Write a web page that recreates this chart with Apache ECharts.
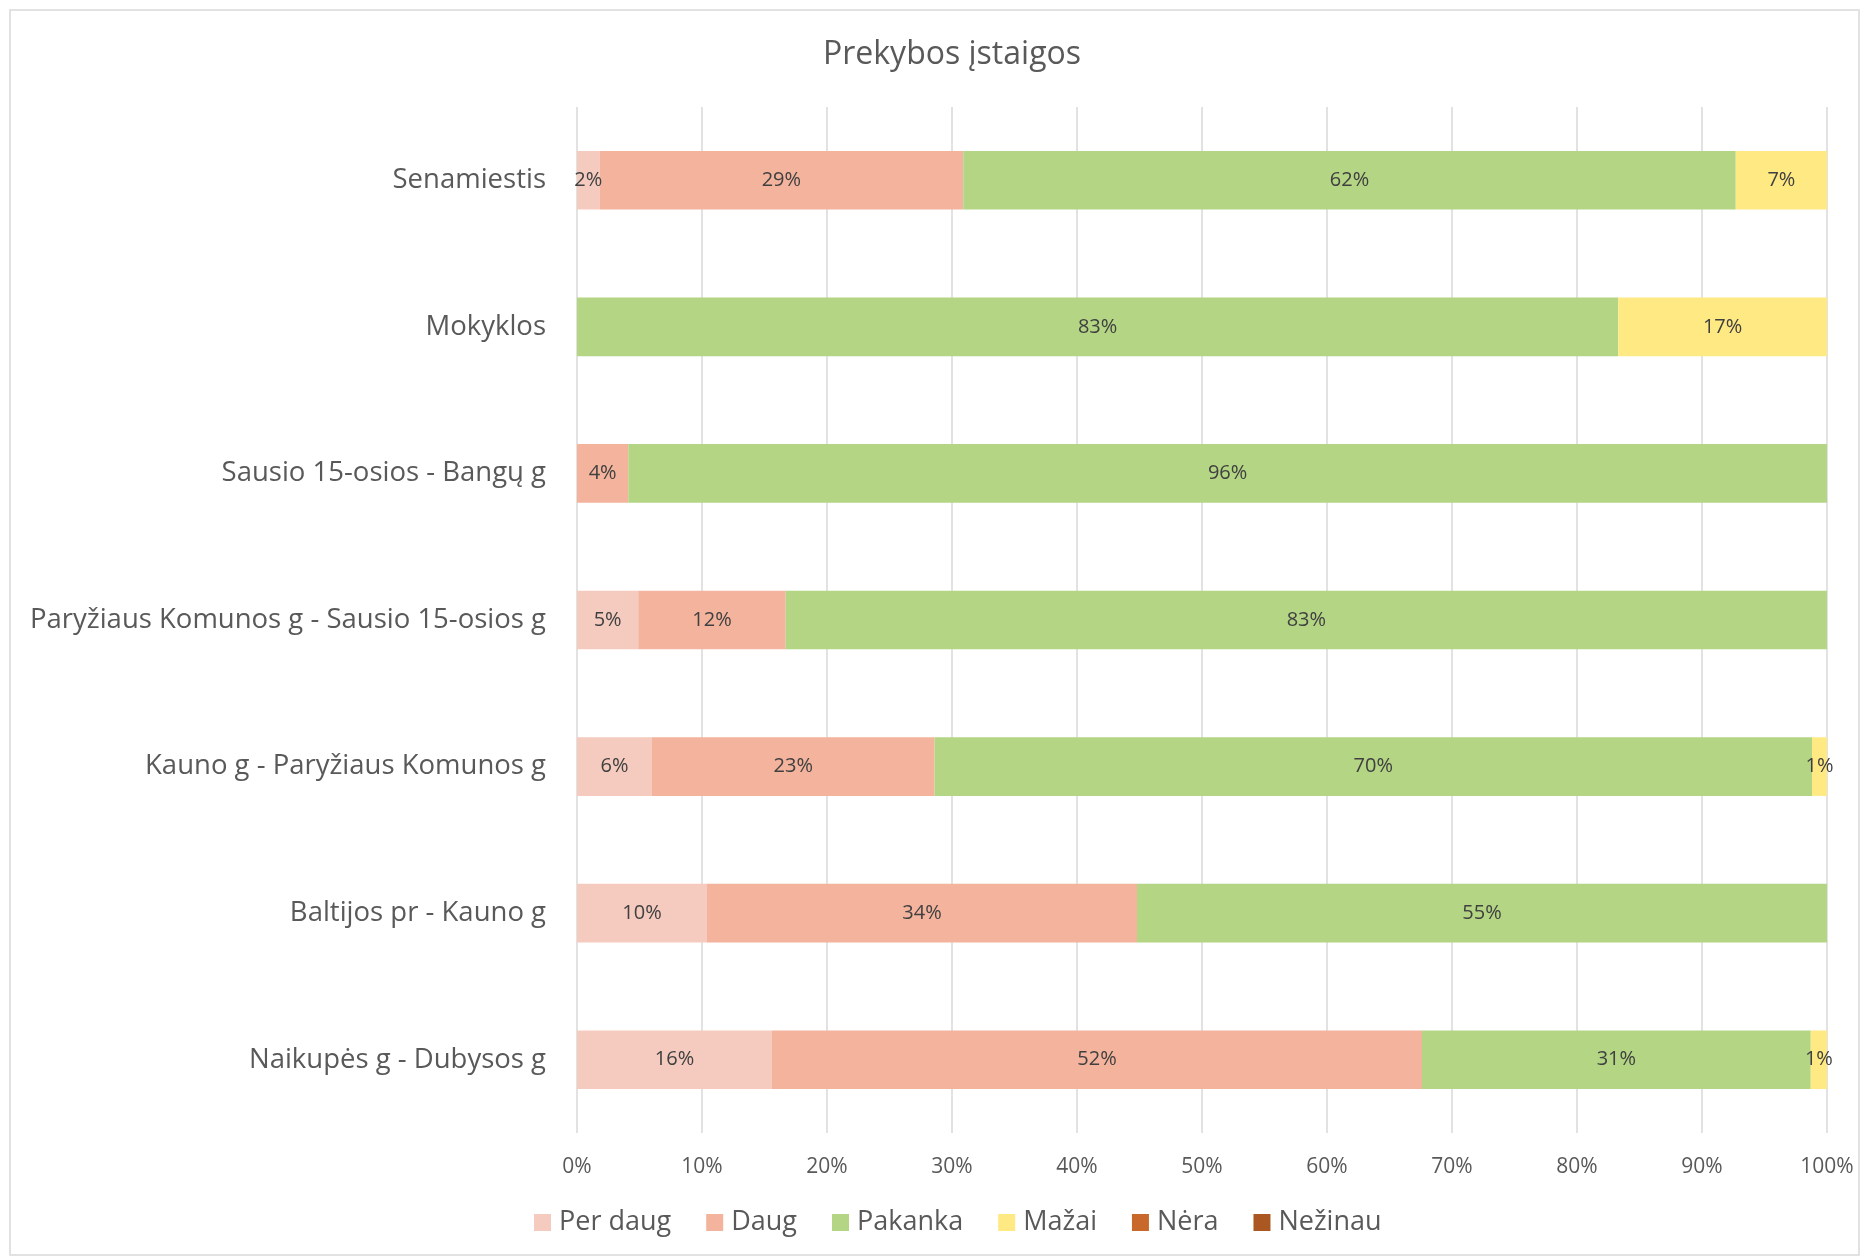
<!DOCTYPE html>
<html><head><meta charset="utf-8">
<script src="https://cdn.jsdelivr.net/npm/echarts@6/dist/echarts.min.js"></script>
<style>html,body{margin:0;padding:0;background:#fff}#c{width:1869px;height:1257px}</style>
</head><body><div id="c"></div>
<script>
const categories = ["Senamiestis","Mokyklos","Sausio 15-osios - Bangų g","Paryžiaus Komunos g - Sausio 15-osios g","Kauno g - Paryžiaus Komunos g","Baltijos pr - Kauno g","Naikupės g - Dubysos g"];
const seriesNames = ["Per daug","Daug","Pakanka","Mažai","Nėra","Nežinau"];
const perDaug = [1.8, 0, 0, 4.9, 6.0, 10.4, 15.6];
const daug    = [29.1, 0, 4.1, 11.8, 22.6, 34.4, 52.0];
const pakanka = [61.8, 83.3, 95.9, 83.3, 70.2, 55.2, 31.1];
const mazai   = [7.3, 16.7, 0, 0, 1.2, 0, 1.3];
const nera    = [0, 0, 0, 0, 0, 0, 0];
const nezinau = [0, 0, 0, 0, 0, 0, 0];
const xTicks = [0,10,20,30,40,50,60,70,80,90,100];
const colors = ["#F5CBBF","#F3B39C","#B3D584","#FFE983","#C8692B","#AB5722"];
const FONT = "Open Sans";
const allData = [perDaug, daug, pakanka, mazai, nera, nezinau];
const chart = echarts.init(document.getElementById('c'));
chart.setOption({
  backgroundColor:'#fff',
  animation:false,
  textStyle:{fontFamily:FONT},
  graphic:[{type:'rect',shape:{x:10,y:10,width:1849,height:1245},style:{fill:'none',stroke:'#d9d9d9',lineWidth:1.5},silent:true}],
  title:{text:'Prekybos įstaigos',left:818,top:34,textStyle:{fontFamily:FONT,fontSize:32,fontWeight:'normal',color:'#595959'}},
  legend:{data:seriesNames,bottom:16,left:529,itemWidth:17,itemHeight:17,itemGap:35,icon:'rect',
    textStyle:{fontFamily:FONT,fontSize:27,color:'#595959',padding:[0,0,0,3]}},
  grid:{left:577,right:42,top:107,bottom:124,containLabel:false},
  xAxis:{type:'value',min:0,max:100,interval:10,
    axisLabel:{formatter:v=>v+'%',fontFamily:FONT,fontSize:21,color:'#595959',margin:24},
    splitLine:{lineStyle:{color:'#d9d9d9',width:1.5}},axisLine:{show:false},axisTick:{show:false}},
  yAxis:{type:'category',data:categories,inverse:true,
    axisLabel:{fontFamily:FONT,fontSize:27.5,color:'#595959',margin:31},
    axisLine:{show:false},axisTick:{show:false}},
  series: seriesNames.map((n,i)=>({
    name:n,type:'bar',stack:'t',barWidth:'40%',data:allData[i],
    itemStyle:{color:colors[i]},
    label:{show:true,position:'inside',fontFamily:FONT,fontSize:20,color:'#404040',
      formatter:p=>p.value>0?Math.round(p.value)+'%':''}
  }))
});
</script></body></html>
